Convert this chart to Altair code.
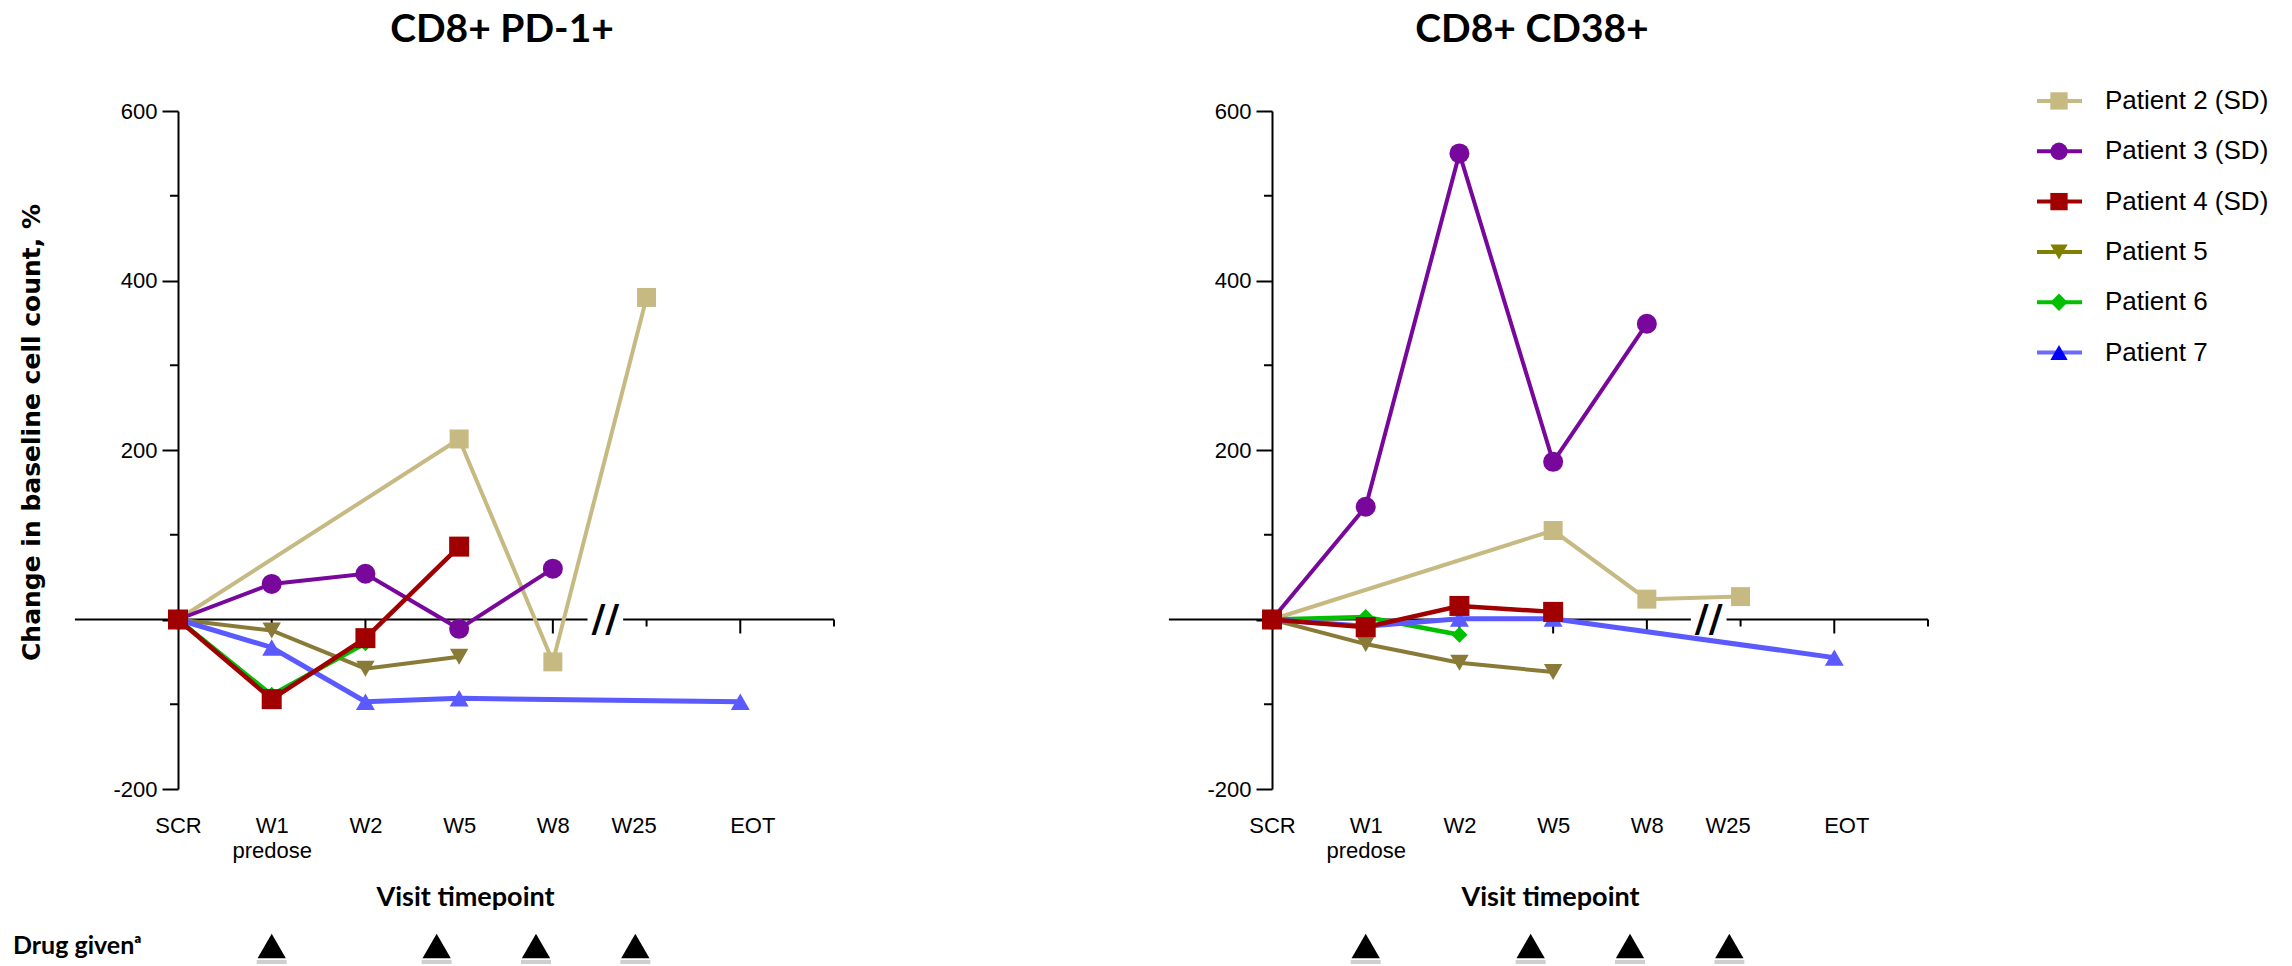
import json
import altair as alt
import pandas as pd

# ---------------- data ----------------
categories = ["SCR", "W1", "W2", "W5", "W8", "W25", "EOT"]
tick_labels = ["SCR", ["W1", "predose"], "W2", "W5", "W8", "W25", "EOT"]
long_ticks = [1, 2, 3, 4, 6]
short_ticks = [5, 7]
y_major = [-200, 0, 200, 400, 600]
y_minor = [-100, 100, 300, 500]

patients = ["Patient 2 (SD)", "Patient 3 (SD)", "Patient 4 (SD)", "Patient 5", "Patient 6", "Patient 7"]
line_colors = ["#C6B982", "#78089C", "#A00000", "#8A7A38", "#00C000", "#5A5AFF"]
legend_marker_colors = ["#C6B982", "#78089C", "#A00000", "#808000", "#00C000", "#0000FF"]
legend_line_colors = ["#C6B982", "#78089C", "#A00000", "#808000", "#00C000", "#6A6AFF"]
shapes = ["square", "circle", "square", "triangle-down", "diamond", "triangle-up"]
marker_sizes = [360, 400, 400, 340, 260, 360]
line_widths = [4, 4, 4.5, 4, 4.5, 5]
draw_order = [0, 1, 3, 4, 5, 2]

# change from baseline (%) at SCR, W1, W2, W5, W8, W25, EOT  (None = no sample)
pd1_p2 = [0, None, None, 213, -50, 380, None]
pd1_p3 = [0, 42, 54, -11, 60, None, None]
pd1_p4 = [0, -94, -22, 86, None, None, None]
pd1_p5 = [0, -13, -58, -44, None, None, None]
pd1_p6 = [0, -89, -28, None, None, None, None]
pd1_p7 = [0, -33, -97, -93, None, None, -97]

cd38_p2 = [0, None, None, 105, 24, 27, None]
cd38_p3 = [0, 133, 550, 186, 349, None, None]
cd38_p4 = [0, -9, 16, 9, None, None, None]
cd38_p5 = [0, -29, -51, -62, None, None, None]
cd38_p6 = [0, 3, -18, None, None, None, None]
cd38_p7 = [0, -8, 1, 1, None, None, -45]

drug_given = [1.0, 2.76, 3.82, 4.88]
axis_start = -1.1
axis_end = 7
break_gap = 0.19

W, H = 656, 678
LABEL_FONT = "Liberation Sans, Arial, sans-serif"
TITLE_FONT = "Lato, Liberation Sans, sans-serif"
YTITLE_FONT = "DejaVu Sans, Verdana, sans-serif"

XSCALE = alt.Scale(domain=[0, 7], nice=False, zero=False)
YSCALE = alt.Scale(domain=[-200, 600], nice=False, zero=False)

LABEL_SHIFT = {"condition": [{"test": "datum.value == 5", "value": -13},
                             {"test": "datum.value == 6", "value": 12}],
               "value": 0}


def make_axes(show_ytitle, xtitle_x, use_shift):
    xkw = dict(
        values=list(range(len(categories))),
        labelExpr=json.dumps(tick_labels) + "[datum.value]",
        ticks=False, domain=False, grid=False,
        labelFlush=False, labelOverlap=False,
        labelFont=LABEL_FONT, labelFontSize=22, labelColor="black",
        labelPadding=26, labelLineHeight=25,
        title="Visit timepoint", titleFont=TITLE_FONT, titleFontSize=27,
        titleFontWeight="bold", titleColor="black",
        titleX=xtitle_x, titleY=108, titleBaseline="middle", titleAlign="center",
    )
    if use_shift:
        xkw["labelOffset"] = LABEL_SHIFT
    ykw = dict(
        values=y_major,
        labelExpr="datum.value == 0 ? '' : toString(datum.value)",
        tickSize=16, tickWidth=2, tickColor="black",
        domainWidth=2, domainColor="black", grid=False,
        labelFont=LABEL_FONT, labelFontSize=22, labelColor="black", labelPadding=5,
    )
    if show_ytitle:
        ykw.update(
            title="Change in baseline cell count, %", titleFont=YTITLE_FONT,
            titleFontSize=25, titleFontWeight="bold", titleColor="black",
            titleX=-147, titleY=321, titleAngle=-90, titleBaseline="middle",
            titleAlign="center",
        )
    else:
        ykw.update(title=None)
    return alt.Axis(**xkw), alt.Axis(**ykw)


def panel(title, series, brk, title_dx, xtitle_x, show_drug_text, use_shift):
    xaxis, yaxis = make_axes(show_drug_text, xtitle_x, use_shift)

    def X(f):
        return alt.X(f, type="quantitative", scale=XSCALE, axis=xaxis)

    def Y(f):
        return alt.Y(f, type="quantitative", scale=YSCALE, axis=yaxis)

    seg = pd.DataFrame({"x0": [axis_start, brk + break_gap],
                        "x1": [brk - break_gap, axis_end], "y": [0, 0]})
    zero_line = alt.Chart(seg).mark_rule(color="black", strokeWidth=2).encode(
        x=X("x0"), x2="x1", y=Y("y"))

    lt = alt.Chart(pd.DataFrame({"t": long_ticks, "y": 0})).mark_point(
        shape="M0,0L0,1", size=784, filled=False, stroke="black", strokeWidth=2,
        opacity=1).encode(x=X("t"), y=Y("y"))
    st = alt.Chart(pd.DataFrame({"t": short_ticks, "y": 0})).mark_point(
        shape="M0,0L0,1", size=196, filled=False, stroke="black", strokeWidth=2,
        opacity=1).encode(x=X("t"), y=Y("y"))
    ym = alt.Chart(pd.DataFrame({"t": 0, "y": y_minor})).mark_point(
        shape="M0,0L-1,0", size=256, filled=False, stroke="black", strokeWidth=2,
        opacity=1).encode(x=X("t"), y=Y("y"))

    slashes = alt.Chart(pd.DataFrame({"b": [brk], "y": [0]})).mark_text(
        text="//", font="DejaVu Sans", fontWeight="bold", fontSize=38,
        baseline="middle", align="center", color="black").encode(x=X("b"), y=Y("y"))

    layers = [zero_line, lt, st, ym, slashes]

    for i in draw_order:
        vals = series[i]
        d = pd.DataFrame({"pos": list(range(len(categories))), "value": vals}).dropna()
        line = alt.Chart(d).mark_line(color=line_colors[i], strokeWidth=line_widths[i]).encode(
            x=X("pos"), y=Y("value"))
        pts = alt.Chart(d).mark_point(shape=shapes[i], filled=True, size=marker_sizes[i],
                                      color=line_colors[i], opacity=1).encode(
            x=X("pos"), y=Y("value"))
        layers += [line, pts]

    dg = pd.DataFrame({"d": drug_given})
    shadow = alt.Chart(dg).mark_point(shape="M-1,0L1,0", size=900, filled=False,
                                      stroke="#8a8a8a", strokeWidth=4, opacity=0.4).encode(
        x=X("d"), y=alt.value(851))
    tri = alt.Chart(dg).mark_point(shape="triangle-up", filled=True, size=800,
                                   color="black", opacity=1).encode(
        x=X("d"), y=alt.value(835))
    layers += [shadow, tri]

    if show_drug_text:
        txt = alt.Chart(pd.DataFrame({"t": ["Drug given\u1d43"]})).mark_text(
            align="left", baseline="middle", font=TITLE_FONT, fontSize=25,
            fontWeight="bold", color="black").encode(
            x=alt.value(-165), y=alt.value(835), text="t:N")
        layers.append(txt)

    return alt.layer(*layers).properties(
        width=W, height=H,
        title=alt.TitleParams(text=title, font=TITLE_FONT, fontSize=39,
                              fontWeight="bold", color="black", anchor="middle",
                              dx=title_dx, offset=50),
    )


def build(use_shift):
    left = panel("CD8+ PD-1+", [pd1_p2, pd1_p3, pd1_p4, pd1_p5, pd1_p6, pd1_p7],
                 4.56, -4, 287, True, use_shift)
    right = panel("CD8+ CD38+", [cd38_p2, cd38_p3, cd38_p4, cd38_p5, cd38_p6, cd38_p7],
                  4.66, -68, 278, False, use_shift)

    leg_df = pd.DataFrame({
        "patient": patients,
        "row": list(range(len(patients))),
        "mcolor": legend_marker_colors,
        "lcolor": legend_line_colors,
        "shape": shapes,
    })
    LY = alt.Y("row:Q", scale=alt.Scale(domain=[0.2, 6.2], reverse=True, nice=False,
                                        zero=False), axis=None)
    leg_rule = alt.Chart(leg_df).mark_rule(strokeWidth=4).encode(
        x=alt.value(0), x2=alt.value(45), y=LY, color=alt.Color("lcolor:N", scale=None))
    leg_pts = alt.Chart(leg_df).mark_point(filled=True, opacity=1, size=300).encode(
        x=alt.value(22), y=LY, color=alt.Color("mcolor:N", scale=None),
        shape=alt.Shape("shape:N", scale=None))
    leg_txt = alt.Chart(leg_df).mark_text(align="left", baseline="middle", font=LABEL_FONT,
                                          fontSize=26, color="black").encode(
        x=alt.value(68), y=LY, text="patient:N")
    legend = alt.layer(leg_rule, leg_pts, leg_txt).properties(width=240, height=302)

    ch = alt.hconcat(alt.hconcat(left, right, spacing=329), legend, spacing=103).properties(
        padding={"left": 13, "top": 11, "right": 0, "bottom": 0},
        background="white",
    ).configure_view(stroke=None)
    ch.to_dict()
    return ch


try:
    chart = build(True)
except Exception:
    chart = build(False)

chart.save("out.html", embed_options={"renderer": "svg", "actions": False})
